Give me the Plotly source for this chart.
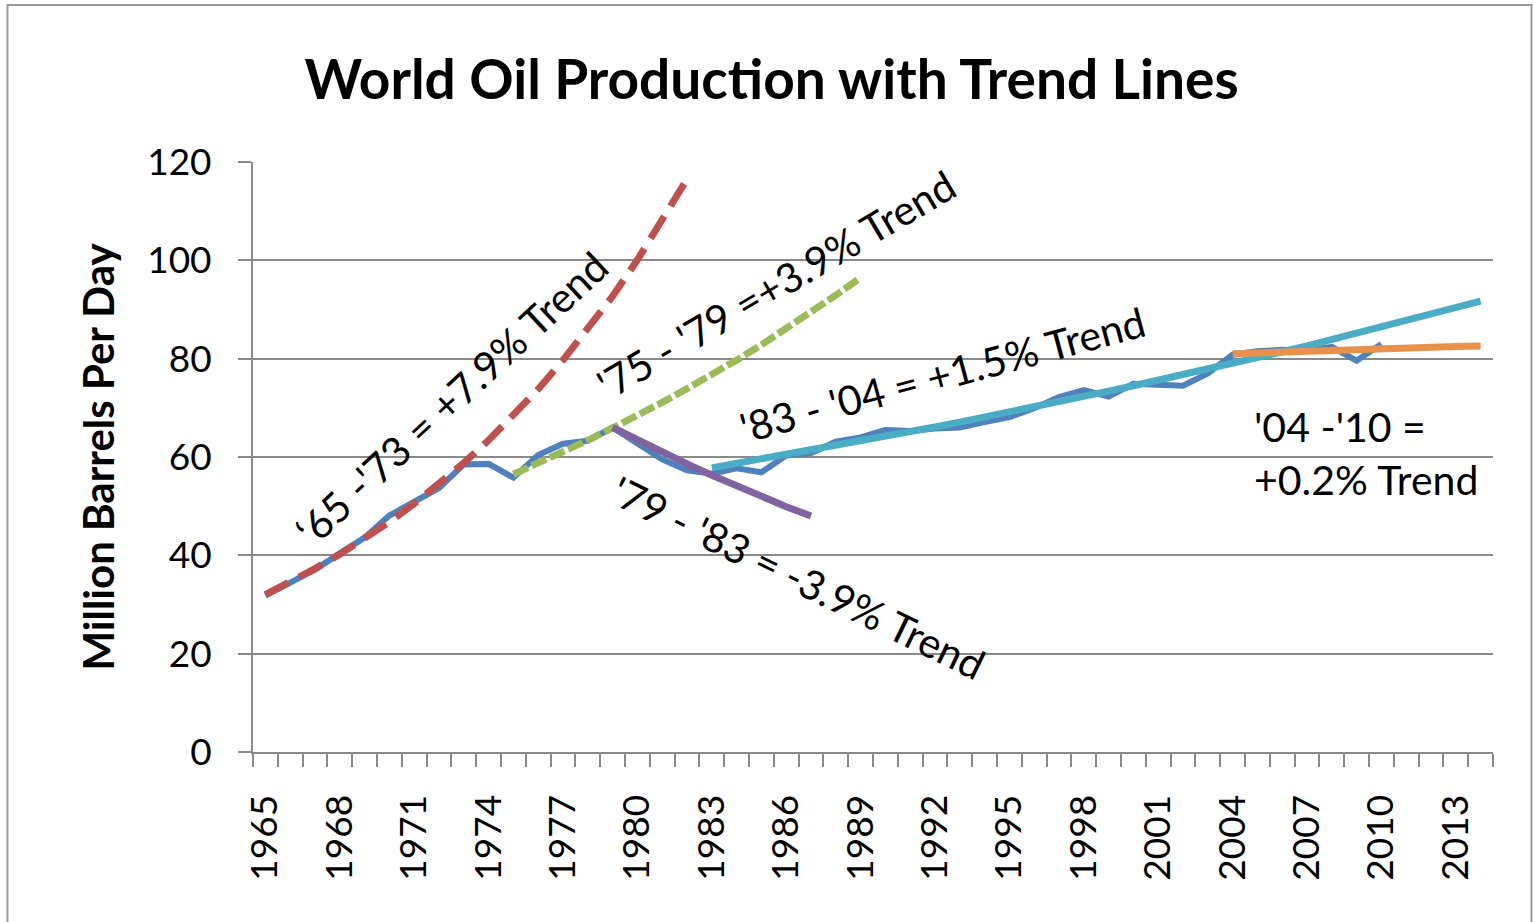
import plotly.graph_objects as go

# ---------------- data ----------------
years = list(range(1965, 2011))
production = [31.8, 34.6, 37.1, 40.4, 43.6, 48.1, 50.8, 53.7, 58.5, 58.6,
              55.8, 60.4, 62.7, 63.3, 66.0, 62.9, 59.5, 57.3, 56.6, 57.7,
              56.9, 60.3, 60.8, 63.1, 64.0, 65.5, 65.3, 65.8, 66.0, 67.1,
              68.1, 69.9, 72.2, 73.6, 72.3, 74.9, 74.8, 74.5, 77.0, 80.8,
              81.5, 81.8, 81.6, 82.4, 79.6, 83.0]

trend_65_73_years = list(range(1965, 1983))
trend_65_73 = [32.0, 34.5, 37.3, 40.2, 43.4, 46.8, 50.5, 54.5, 58.8, 63.4,
               68.4, 73.8, 79.7, 86.0, 92.7, 100.1, 108.0, 116.5]

trend_75_79_years = list(range(1975, 1990))
trend_75_79 = [56.5, 58.7, 61.0, 63.4, 65.9, 68.4, 71.1, 73.9, 76.7, 79.7,
               82.8, 86.1, 89.4, 92.9, 96.5]

trend_79_83_years = list(range(1979, 1988))
trend_79_83 = [66.0, 63.4, 60.9, 58.6, 56.3, 54.1, 52.0, 49.9, 48.0]

trend_83_04_years = list(range(1983, 2015))
trend_83_04 = [57.8, 58.7, 59.5, 60.4, 61.3, 62.3, 63.2, 64.2, 65.1, 66.1,
               67.1, 68.1, 69.1, 70.2, 71.2, 72.3, 73.4, 74.5, 75.6, 76.7,
               77.9, 79.0, 80.2, 81.4, 82.6, 83.9, 85.1, 86.4, 87.7, 89.0,
               90.4, 91.7]

trend_04_10_years = list(range(2004, 2015))
trend_04_10 = [81.0, 81.2, 81.3, 81.5, 81.6, 81.8, 82.0, 82.1, 82.3, 82.5, 82.6]

label_years = list(range(1965, 2014, 3))
y_ticks = [0, 20, 40, 60, 80, 100, 120]

# ---------------- figure ----------------
FONT = "Lato"
GRID = "#8a8a8a"

fig = go.Figure()
fig.add_trace(go.Scatter(x=years, y=production, mode="lines",
                         line=dict(color="#4F81BD", width=6), name="Production"))
fig.add_trace(go.Scatter(x=trend_65_73_years, y=trend_65_73, mode="lines",
                         line=dict(color="#C0504D", width=7, dash="26px,12px"), name="65-73"))
fig.add_trace(go.Scatter(x=trend_75_79_years, y=trend_75_79, mode="lines",
                         line=dict(color="#9BBB59", width=7, dash="16px,4px"), name="75-79"))
fig.add_trace(go.Scatter(x=trend_79_83_years, y=trend_79_83, mode="lines",
                         line=dict(color="#8064A2", width=7), name="79-83"))
fig.add_trace(go.Scatter(x=trend_83_04_years, y=trend_83_04, mode="lines",
                         line=dict(color="#4BACC6", width=7), name="83-04"))
fig.add_trace(go.Scatter(x=trend_04_10_years, y=trend_04_10, mode="lines",
                         line=dict(color="#E8914A", width=7), name="04-10"))

ann_font = dict(family=FONT, size=41, color="black")
annotations = [
    dict(x=1972.5, y=72.0, text="‘65 -'73 = +7.9% Trend", textangle=-43),
    dict(x=1985.6, y=95.0, text="'75 - '79 =+3.9% Trend", textangle=-30.5),
    dict(x=1992.3, y=76.7, text="'83 - '04 = +1.5% Trend", textangle=-15),
    dict(x=1986.5, y=35.4, text="'79 - '83 = -3.9% Trend", textangle=26),
]
for a in annotations:
    fig.add_annotation(xref="x", yref="y", showarrow=False, font=ann_font,
                       xanchor="center", yanchor="middle", **a)
fig.add_annotation(xref="x", yref="y", x=2004.8, y=60.8, showarrow=False,
                   text="'04 -'10 =<br>+0.2% Trend", align="left",
                   xanchor="left", yanchor="middle", font=ann_font)

# outer chart border
fig.add_shape(type="rect", xref="paper", yref="paper",
              x0=-0.198, x1=1.031, y0=-0.30, y1=1.266,
              line=dict(color="#9a9a9a", width=2), fillcolor="rgba(0,0,0,0)", layer="below")

fig.update_layout(
    width=1533, height=922,
    margin=dict(l=253, r=40, t=162, b=170),
    paper_bgcolor="white", plot_bgcolor="white",
    showlegend=False,
    title=dict(text="<b>World Oil Production with Trend Lines</b>",
               x=(303 + 1240) / 2 / 1533, xanchor="center",
               y=1 - 80 / 922, yanchor="middle",
               font=dict(family=FONT, size=55, color="black")),
    font=dict(family=FONT, color="black"),
)
fig.update_xaxes(
    range=[1964.5, 2014.5],
    tickmode="array", tickvals=label_years, ticktext=[str(v) for v in label_years],
    ticks="", tickangle=-90, tickfont=dict(family=FONT, size=37, color="black"),
    showgrid=False, zeroline=False,
    showline=True, linecolor=GRID, linewidth=2,
    minor=dict(ticks="outside", ticklen=13, tickwidth=2, tickcolor=GRID,
               tick0=1964.5, dtick=1, showgrid=False),
    ticklabelstandoff=26,
)
fig.update_yaxes(
    range=[0, 120], tickmode="array", tickvals=y_ticks,
    ticks="outside", ticklen=13, tickwidth=2, tickcolor=GRID,
    tickfont=dict(family=FONT, size=37, color="black"),
    ticklabelstandoff=19,
    showgrid=True, gridcolor=GRID, gridwidth=2,
    zeroline=False, showline=True, linecolor=GRID, linewidth=2,
    title=dict(text="<b>Million Barrels Per Day</b>",
               font=dict(family=FONT, size=42, color="black"), standoff=20),
)

fig.write_html("out.html")
